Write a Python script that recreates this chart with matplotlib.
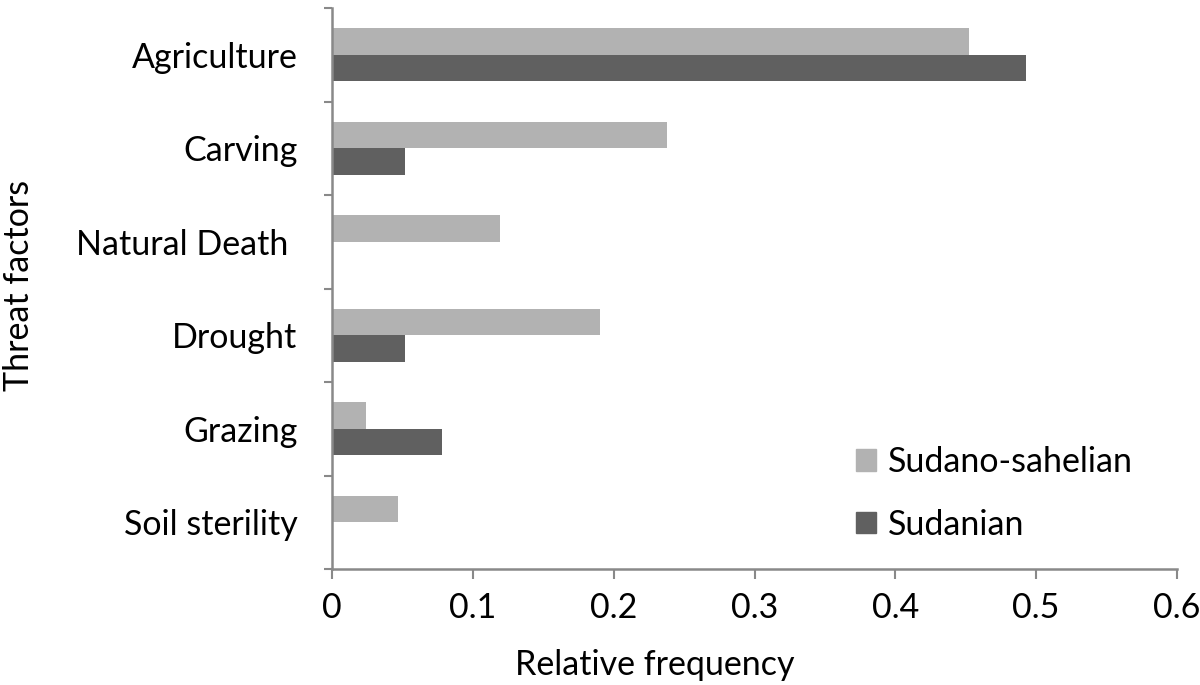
import numpy as np
import matplotlib
matplotlib.use("Agg")
import matplotlib.pyplot as plt
from matplotlib.patches import Patch

categories = ["Agriculture", "Carving", "Natural Death ", "Drought", "Grazing", "Soil sterility"]
sudano_sahelian = [0.452, 0.238, 0.119, 0.190, 0.024, 0.047]
sudanian = [0.493, 0.052, 0.0, 0.052, 0.078, 0.0]
xticks = [0, 0.1, 0.2, 0.3, 0.4, 0.5, 0.6]
xtick_labels = ["0", "0.1", "0.2", "0.3", "0.4", "0.5", "0.6"]

light = "#b2b2b2"
dark = "#606060"
axis_col = "#898989"
fs = 24.5

plt.rcParams['font.family'] = ['Lato', 'DejaVu Sans']

def main():
    fig = plt.figure(figsize=(12, 6.85), dpi=100)
    ax = fig.add_axes([332 / 1200, 1 - 569 / 685, (1177 - 332) / 1200, (569 - 8) / 685])

    n = len(categories)
    y = np.arange(n)[::-1]
    h = 0.285
    ax.barh(y + h / 2, sudano_sahelian, height=h, color=light, label="Sudano-sahelian")
    ax.barh(y - h / 2, sudanian, height=h, color=dark, label="Sudanian")

    ax.set_xlim(0, 0.6)
    ax.set_ylim(-0.5, n - 0.5)
    ax.set_xticks(xticks)
    ax.set_xticklabels(xtick_labels, fontsize=fs)

    # boundary ticks as major, category names on minor ticks
    ax.set_yticks(np.arange(n + 1) - 0.5)
    ax.set_yticklabels([])
    ax.set_yticks(y, minor=True)
    ax.set_yticklabels(categories, minor=True, fontsize=fs)
    ax.tick_params(axis='y', which='minor', length=0, pad=25)
    ax.tick_params(axis='y', which='major', length=6, width=1.5, color=axis_col)
    ax.tick_params(axis='x', length=7, width=1.5, color=axis_col, pad=9.5)

    for s in ["top", "right"]:
        ax.spines[s].set_visible(False)
    for s in ["left", "bottom"]:
        ax.spines[s].set_color(axis_col)
        ax.spines[s].set_linewidth(1.8)

    ax.set_xlabel("Relative frequency", fontsize=fs)
    ax.xaxis.set_label_coords(0.382, -0.142)
    ax.set_ylabel("Threat factors", fontsize=fs)
    ax.yaxis.set_label_coords(-0.351, 0.506)

    handles = [Patch(color=light), Patch(color=dark)]
    ax.legend(handles, ["Sudano-sahelian", "Sudanian"], frameon=False, fontsize=fs,
              loc="upper left", bbox_to_anchor=(856 / 1200, 1 - 446 / 685),
              bbox_transform=fig.transFigure, borderpad=0, borderaxespad=0,
              handlelength=0.6, handleheight=0.6, handletextpad=0.35, labelspacing=0.9)

    plt.savefig("out.png", dpi=100)


if __name__ == "__main__":
    main()
